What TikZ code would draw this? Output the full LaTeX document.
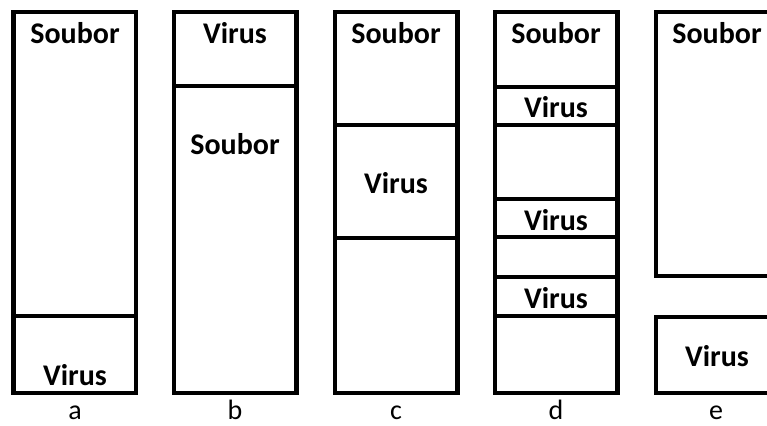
\documentclass[tikz,border=0pt]{standalone}
\usepackage{fontspec}
\setmainfont{Carlito}
\begin{document}
\begin{tikzpicture}[x=1pt,y=-1pt,
  frame/.style={draw=black,line width=4.5pt,line join=miter},
  sep/.style={draw=black,line width=4.5pt},
  tag/.style={font=\fontsize{30}{32}\selectfont\bfseries,inner sep=0pt,anchor=center},
  caption/.style={font=\fontsize{28}{30}\selectfont,inner sep=0pt,anchor=base}]
\useasboundingbox (0,0) rectangle (767,425);
% a
\draw[frame] (13.5,12) rectangle (136,393);
\draw[sep] (13.5,316) -- (136,316);
\node[tag] (aS) at (75,33) {Soubor};
\node[tag] (aV) at (75,375) {Virus};
\node[caption] (la) at (75,419) {a};
% b
\draw[frame] (174,12) rectangle (296.5,393);
\draw[sep] (174,86) -- (296.5,86);
\node[tag] (bV) at (235,33) {Virus};
\node[tag] (bS) at (235,144) {Soubor};
\node[caption] (lb) at (235,419) {b};
% c
\draw[frame] (335,12) rectangle (457.5,393);
\draw[sep] (335,125) -- (457.5,125);
\draw[sep] (335,238) -- (457.5,238);
\node[tag] (cS) at (396,33) {Soubor};
\node[tag] (cV) at (396,183) {Virus};
\node[caption] (lc) at (396,419) {c};
% d
\draw[frame] (495,12) rectangle (617.5,393);
\foreach \yy in {87,125,199,237,277,316}
  \draw[sep] (495,\yy) -- (617.5,\yy);
\node[tag] (dS) at (556,33) {Soubor};
\node[tag] (dV1) at (556,107) {Virus};
\node[tag] (dV2) at (556,220) {Virus};
\node[tag] (dV3) at (556,298) {Virus};
\node[caption] (ld) at (556,419) {d};
% e
\draw[frame] (656,12) rectangle (778.5,276);
\draw[frame] (656,317) rectangle (778.5,393);
\node[tag] (eS) at (717,33) {Soubor};
\node[tag] (eV) at (717,356) {Virus};
\node[caption] (le) at (716,419) {e};
\end{tikzpicture}
\end{document}
